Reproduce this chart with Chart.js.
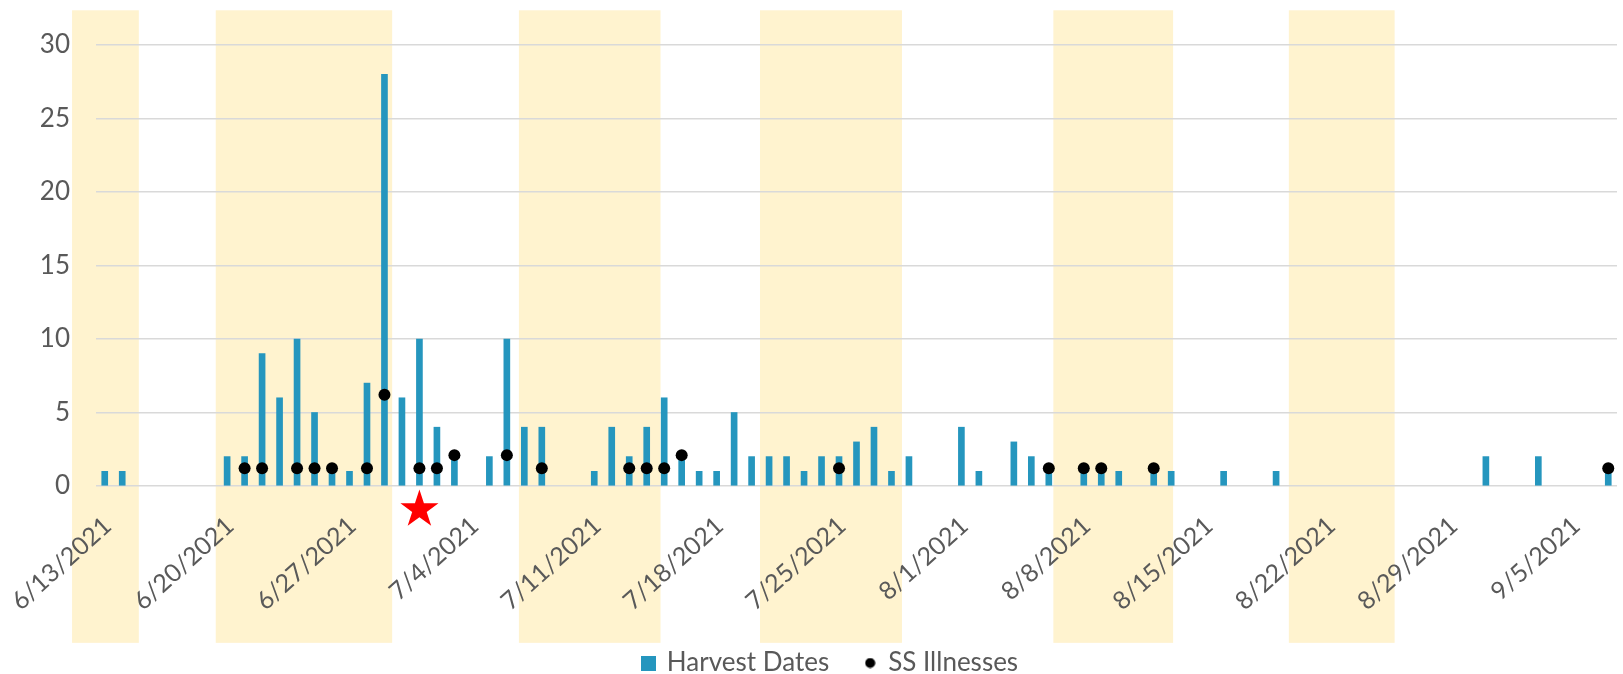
<!DOCTYPE html>
<html>
<head>
<meta charset="utf-8">
<script src="https://cdn.jsdelivr.net/npm/chart.js@4.4.1/dist/chart.umd.min.js"></script>
<style>
  html, body { margin: 0; padding: 0; background: #fff; }
</style>
</head>
<body>
<canvas id="myChart" width="1623" height="674"></canvas>
<script>
// days on the axis: 6/13/2021 .. 9/7/2021
const firstDay = new Date(2021, 5, 13);
const dayCount = 87;

const tickLabels = ['6/13/2021', '6/20/2021', '6/27/2021', '7/4/2021', '7/11/2021', '7/18/2021',
  '7/25/2021', '8/1/2021', '8/8/2021', '8/15/2021', '8/22/2021', '8/29/2021', '9/5/2021'];

const harvestDates = ['6/13/2021', '6/14/2021', '6/20/2021', '6/21/2021', '6/22/2021', '6/23/2021',
  '6/24/2021', '6/25/2021', '6/26/2021', '6/27/2021', '6/28/2021', '6/29/2021', '6/30/2021',
  '7/1/2021', '7/2/2021', '7/3/2021', '7/5/2021', '7/6/2021', '7/7/2021', '7/8/2021',
  '7/11/2021', '7/12/2021', '7/13/2021', '7/14/2021', '7/15/2021', '7/16/2021', '7/17/2021',
  '7/18/2021', '7/19/2021', '7/20/2021', '7/21/2021', '7/22/2021', '7/23/2021', '7/24/2021',
  '7/25/2021', '7/26/2021', '7/27/2021', '7/28/2021', '7/29/2021', '8/1/2021', '8/2/2021',
  '8/4/2021', '8/5/2021', '8/6/2021', '8/8/2021', '8/9/2021', '8/10/2021', '8/12/2021',
  '8/13/2021', '8/16/2021', '8/19/2021', '8/31/2021', '9/3/2021', '9/7/2021'];
const harvestCounts = [1, 1, 2, 2, 9, 6,
  10, 5, 1, 1, 7, 28, 6,
  10, 4, 2, 2, 10, 4, 4,
  1, 4, 2, 4, 6, 2, 1,
  1, 5, 2, 2, 2, 1, 2,
  2, 3, 4, 1, 2, 4, 1,
  3, 2, 1, 1, 1, 1, 1,
  1, 1, 1, 2, 2, 1];

const illnessDates = ['6/21/2021', '6/22/2021', '6/24/2021', '6/25/2021', '6/26/2021', '6/28/2021',
  '6/29/2021', '7/1/2021', '7/2/2021', '7/3/2021', '7/6/2021', '7/8/2021', '7/13/2021',
  '7/14/2021', '7/15/2021', '7/16/2021', '7/25/2021', '8/6/2021', '8/8/2021', '8/9/2021',
  '8/12/2021', '9/7/2021'];
const illnessValues = [1.2, 1.2, 1.2, 1.2, 1.2, 1.2,
  6.2, 1.2, 1.2, 2.1, 2.1, 1.2, 1.2,
  1.2, 1.2, 2.1, 1.2, 1.2, 1.2, 1.2,
  1.2, 1.2];

// shaded week bands, in day-index units on the x axis
const bandStarts = [-1.87, 6.35, 23.69, 37.48, 54.26, 67.73];
const bandEnds = [1.95, 16.44, 31.79, 45.60, 61.11, 73.78];
const bandTop = 32.36;
const bandBottom = -10.67;

const starDate = '7/1/2021';
const starLevel = -1.6;

const allDays = [];
for (let i = 0; i < dayCount; i++) {
  const d = new Date(firstDay.getFullYear(), firstDay.getMonth(), firstDay.getDate() + i);
  allDays.push((d.getMonth() + 1) + '/' + d.getDate() + '/' + d.getFullYear());
}

Chart.defaults.font.family = 'Lato';
Chart.defaults.color = '#595959';

function makeIcon(kind) {
  const c = document.createElement('canvas');
  const ctx = c.getContext('2d');
  if (kind === 'square') {
    c.width = 15; c.height = 15;
    ctx.fillStyle = '#2596BE';
    ctx.fillRect(0, 0, 15, 15);
  } else {
    c.width = 11; c.height = 11;
    ctx.fillStyle = '#000';
    ctx.beginPath();
    ctx.arc(5.5, 5.5, 5, 0, Math.PI * 2);
    ctx.fill();
  }
  return c;
}
const legendIcons = [makeIcon('square'), makeIcon('dot')];

const bandsPlugin = {
  id: 'bands',
  beforeDraw(chart) {
    const {ctx, scales: {x, y}} = chart;
    ctx.save();
    ctx.fillStyle = '#FFF3CF';
    bandStarts.forEach((s, i) => {
      const x1 = x.getPixelForValue(s);
      const x2 = x.getPixelForValue(bandEnds[i]);
      const y1 = y.getPixelForValue(bandTop);
      const y2 = y.getPixelForValue(bandBottom);
      ctx.fillRect(x1, y1, x2 - x1, y2 - y1);
    });
    ctx.restore();
  },
  afterDatasetsDraw(chart) {
    // red star under 7/1
    const {ctx, scales: {x, y}} = chart;
    const cx = x.getPixelForValue(allDays.indexOf(starDate));
    const cy = y.getPixelForValue(starLevel);
    const R = 20, r = 20 * 0.382;
    ctx.save();
    ctx.fillStyle = '#FF0000';
    ctx.beginPath();
    for (let k = 0; k < 10; k++) {
      const rad = k % 2 === 0 ? R : r;
      const a = -Math.PI / 2 + k * Math.PI / 5;
      const px = cx + rad * Math.cos(a), py = cy + rad * Math.sin(a);
      if (k === 0) ctx.moveTo(px, py); else ctx.lineTo(px, py);
    }
    ctx.closePath();
    ctx.fill();
    ctx.restore();
  }
};

const data = {
  labels: allDays,
  datasets: [{
    type: 'bar',
    label: 'Harvest Dates',
    data: harvestDates.map((d, i) => ({x: d, y: harvestCounts[i]})),
    backgroundColor: '#2596BE',
    barThickness: 6,
    order: 2
  }, {
    type: 'line',
    label: 'SS Illnesses',
    data: illnessDates.map((d, i) => ({x: d, y: illnessValues[i]})),
    showLine: false,
    pointRadius: 6,
    pointBackgroundColor: '#000',
    pointBorderWidth: 0,
    backgroundColor: '#000',
    order: 1
  }]
};

const config = {
  type: 'bar',
  data,
  plugins: [bandsPlugin],
  options: {
    responsive: false,
    animation: false,
    layout: { padding: { top: 45, right: 2, left: 41, bottom: 0 } },
    scales: {
      x: {
        type: 'category',
        offset: true,
        afterFit: axis => {
          axis.height = 128;
          axis.paddingLeft = 0;
          axis.paddingRight = 0;
        },
        grid: { display: false, drawTicks: false },
        border: { display: false },
        ticks: {
          autoSkip: false,
          minRotation: 42,
          maxRotation: 42,
          padding: 25,
          labelOffset: 3,
          font: { size: 25 },
          color: '#595959',
          callback: (value, index) => tickLabels.includes(allDays[index]) ? allDays[index] : ''
        }
      },
      y: {
        min: 0,
        max: 30,
        afterFit: axis => { axis.width = 55; },
        ticks: {
          stepSize: 5,
          padding: 26,
          font: { size: 26 },
          color: '#595959'
        },
        grid: { color: '#D9D9D9', lineWidth: 1.5, drawTicks: false },
        border: { display: false }
      }
    },
    plugins: {
      tooltip: { enabled: false },
      legend: {
        position: 'bottom',
        maxHeight: 60,
        labels: {
          usePointStyle: true,
          boxWidth: 10,
          padding: 36,
          font: { size: 26 },
          color: '#595959',
          sort: (a, b) => a.datasetIndex - b.datasetIndex,
          generateLabels: chart => {
            const items = Chart.defaults.plugins.legend.labels.generateLabels(chart);
            items.forEach(it => { it.pointStyle = legendIcons[it.datasetIndex]; });
            return items;
          }
        }
      }
    }
  }
};

const myChart = new Chart(document.getElementById('myChart'), config);
</script>
</body>
</html>
